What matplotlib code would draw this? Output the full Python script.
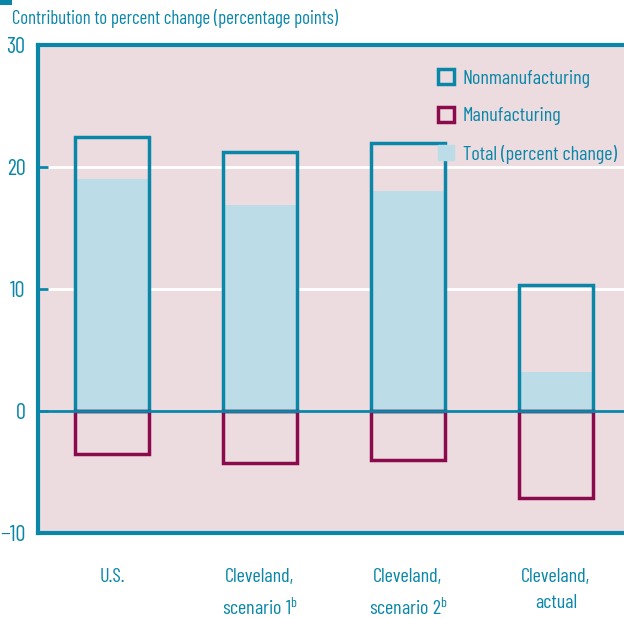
import matplotlib
matplotlib.use('Agg')
import matplotlib.pyplot as plt
from matplotlib.patches import Patch, Rectangle

plt.rcParams['font.family'] = ['Barlow Condensed', 'DejaVu Sans']
plt.rcParams['mathtext.fontset'] = 'custom'
plt.rcParams['mathtext.rm'] = 'Barlow Condensed'

categories = ['U.S.', 'Cleveland,\nscenario 1$^\\mathregular{b}$',
              'Cleveland,\nscenario 2$^\\mathregular{b}$', 'Cleveland,\nactual']
nonmanufacturing = [22.5, 21.2, 22.0, 10.3]
manufacturing = [-3.5, -4.3, -4.0, -7.1]
total = [19.0, 16.9, 18.0, 3.2]

TEAL = '#0a87a8'
MAROON = '#8b0a4b'
LIGHT = '#bcdde8'
PINK = '#ecdce0'

fig = plt.figure(figsize=(6.24, 6.18), dpi=100)
ax = fig.add_axes([38 / 624, 85 / 618, 1 - 38 / 624, (533 - 45) / 618])
ax.set_facecolor(PINK)

x = range(len(categories))
w = 0.5
ax.bar(x, total, width=w, color=LIGHT, zorder=2)
ax.bar(x, nonmanufacturing, width=w, facecolor='none', edgecolor=TEAL, linewidth=2.5, zorder=3)
ax.bar(x, manufacturing, width=w, facecolor='none', edgecolor=MAROON, linewidth=2.5, zorder=3)

for yv in (10, 20):
    ax.axhline(yv, color='white', linewidth=2, zorder=1)
ax.axhline(0, color=TEAL, linewidth=2, zorder=4)

ax.set_xlim(-0.5, 3.46)
ax.set_ylim(-10, 30)
ax.set_yticks([-10, 0, 10, 20, 30])
ax.tick_params(axis='y', direction='in', length=7, width=2, color=TEAL,
               labelcolor=TEAL, labelsize=16, pad=9)
ax.set_xticks(list(x))
ax.set_xticklabels(categories, color=TEAL, fontsize=14.5, linespacing=1.6)
ax.tick_params(axis='x', length=0, pad=25)

for s in ('left', 'top', 'bottom'):
    ax.spines[s].set_color(TEAL)
    ax.spines[s].set_linewidth(3)
ax.spines['right'].set_visible(False)

handles = [Patch(facecolor='none', edgecolor=TEAL, linewidth=2.5),
           Patch(facecolor='none', edgecolor=MAROON, linewidth=2.5),
           Patch(facecolor=LIGHT, edgecolor=LIGHT)]
labels = ['Nonmanufacturing', 'Manufacturing', 'Total (percent change)']
leg = ax.legend(handles, labels, loc='upper right', bbox_to_anchor=(1.012, 0.98),
                frameon=False, fontsize=14.5, handlelength=0.8, handleheight=0.8,
                handletextpad=0.45, labelspacing=0.95, borderaxespad=0.3)
for t in leg.get_texts():
    t.set_color(TEAL)

fig.text(12 / 624, 1 - 19 / 618, 'Contribution to percent change (percentage points)',
         color=TEAL, fontsize=13.5, va='center', ha='left')
fig.patches.append(Rectangle((0, 1 - 5 / 618), 12 / 624, 5 / 618, transform=fig.transFigure,
                             facecolor=TEAL, edgecolor='none'))

fig.savefig('out.png', dpi=100)
